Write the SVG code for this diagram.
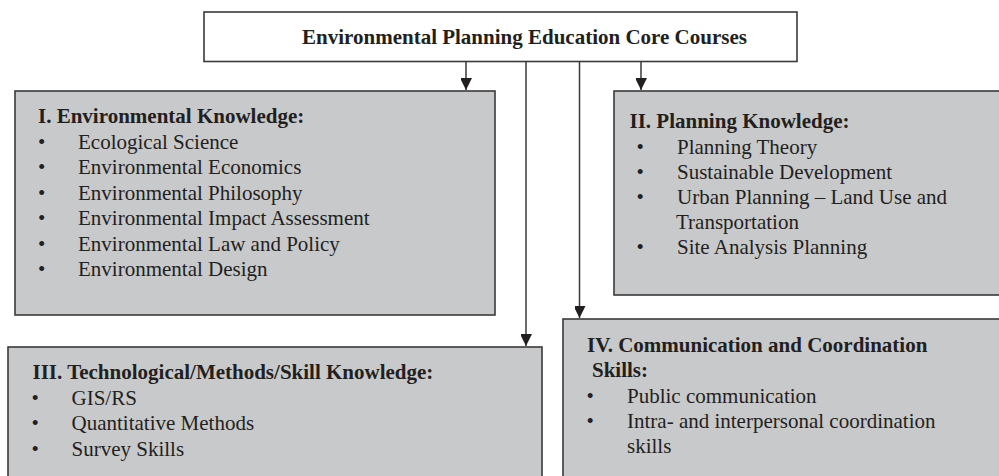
<svg xmlns="http://www.w3.org/2000/svg" width="999" height="476" viewBox="0 0 999 476">
  <style>
    .box { fill: #c8c9cb; stroke: #3a3a3a; stroke-width: 1.6; }
    .top { fill: #ffffff; stroke: #3a3a3a; stroke-width: 1.6; }
    .edge { fill: none; stroke: #3a3a3a; stroke-width: 1.5; }
    text { font-family: "Liberation Serif", "Times New Roman", serif; font-size: 21px; fill: #231f20; }
    .h { font-weight: bold; }
  </style>
  <defs>
    <marker id="arrow" markerUnits="userSpaceOnUse" markerWidth="13" markerHeight="11" refX="12" refY="6" orient="auto">
      <path d="M0,0 L12,6 L0,12 Z" fill="#231f20"/>
    </marker>
  </defs>

  <rect width="999" height="476" fill="#ffffff"/>

  <!-- connectors from the header box -->
  <g id="connectors">
    <line class="edge" x1="466" y1="62" x2="466" y2="90" marker-end="url(#arrow)"/>
    <line class="edge" x1="641" y1="62" x2="641" y2="90" marker-end="url(#arrow)"/>
    <line class="edge" x1="526" y1="62" x2="526" y2="346" marker-end="url(#arrow)"/>
    <line class="edge" x1="579.5" y1="62" x2="579.5" y2="318" marker-end="url(#arrow)"/>
  </g>

  <!-- header -->
  <g id="core">
    <rect class="top" x="204" y="12" width="593" height="49.5"/>
    <text class="h" x="302" y="43.5">Environmental Planning Education Core Courses</text>
  </g>

  <!-- I. Environmental Knowledge -->
  <g id="environmental">
    <rect class="box" x="15" y="91" width="480" height="224"/>
    <text class="h" x="38" y="123">I. Environmental Knowledge:</text>
    <text x="38" y="148.5">•</text><text x="78" y="148.5">Ecological Science</text>
    <text x="38" y="174">•</text><text x="78" y="174">Environmental Economics</text>
    <text x="38" y="199.5">•</text><text x="78" y="199.5">Environmental Philosophy</text>
    <text x="38" y="225">•</text><text x="78" y="225">Environmental Impact Assessment</text>
    <text x="38" y="250.5">•</text><text x="78" y="250.5">Environmental Law and Policy</text>
    <text x="38" y="276">•</text><text x="78" y="276">Environmental Design</text>
  </g>

  <!-- II. Planning Knowledge -->
  <g id="planning">
    <rect class="box" x="614" y="91" width="400" height="204"/>
    <text class="h" x="629.5" y="128">II. Planning Knowledge:</text>
    <text x="636.5" y="154">•</text><text x="677" y="154">Planning Theory</text>
    <text x="636.5" y="179">•</text><text x="677" y="179">Sustainable Development</text>
    <text x="636.5" y="204">•</text><text x="677" y="204">Urban Planning – Land Use and</text>
    <text x="676" y="229">Transportation</text>
    <text x="636.5" y="254">•</text><text x="677" y="254">Site Analysis Planning</text>
  </g>

  <!-- III. Technological/Methods/Skill Knowledge -->
  <g id="technological">
    <rect class="box" x="8" y="347" width="534" height="140"/>
    <text class="h" x="32.5" y="379">III. Technological/Methods/Skill Knowledge:</text>
    <text x="31.5" y="404.5">•</text><text x="71.5" y="404.5">GIS/RS</text>
    <text x="31.5" y="430">•</text><text x="71.5" y="430">Quantitative Methods</text>
    <text x="31.5" y="455.5">•</text><text x="71.5" y="455.5">Survey Skills</text>
  </g>

  <!-- IV. Communication and Coordination Skills -->
  <g id="communication">
    <rect class="box" x="563" y="319" width="450" height="170"/>
    <text class="h" x="587" y="352">IV. Communication and Coordination</text>
    <text class="h" x="592" y="377">Skills:</text>
    <text x="586.5" y="403">•</text><text x="627" y="403">Public communication</text>
    <text x="586.5" y="428">•</text><text x="627" y="428">Intra- and interpersonal coordination</text>
    <text x="627" y="453">skills</text>
  </g>
</svg>
